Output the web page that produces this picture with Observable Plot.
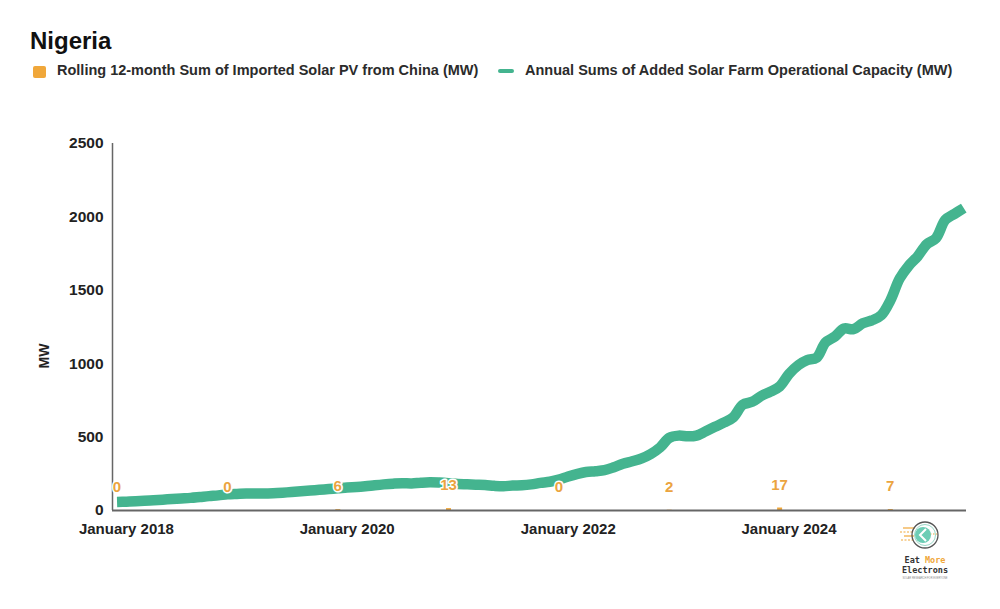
<!DOCTYPE html>
<html>
<head>
<meta charset="utf-8">
<script src="https://cdn.jsdelivr.net/npm/d3@7"></script>
<script src="https://cdn.jsdelivr.net/npm/@observablehq/plot@0.6"></script>
<style>
  body { margin: 0; background: #fff; font-family: "Liberation Sans", Arial, sans-serif; }
  #wrap { position: relative; width: 1000px; height: 609px; overflow: hidden; background: #fff; }
  #title { position: absolute; left: 30px; top: 27px; font-size: 24px; font-weight: bold; color: #111; }
  .leg { position: absolute; top: 62px; font-size: 14.5px; font-weight: bold; color: #2b2b2b; white-space: nowrap; }
  .sw-sq { position: absolute; left: 33px; top: 66px; width: 13px; height: 12px; background: #F0A73A; border-radius: 2px; }
  .sw-ln { position: absolute; left: 498px; top: 69px; width: 16px; height: 4px; background: #44B48F; border-radius: 2px; }
  #chart { position: absolute; left: 0; top: 100px; }
  #chart svg text { font-family: "Liberation Sans", Arial, sans-serif; }
  #chart g[aria-label="x-axis tick label"] text, #chart g[aria-label="y-axis tick label"] text { font-weight: bold; fill: #222; }
  #ylab { position: absolute; left: 32px; top: 348px; font-size: 14px; font-weight: bold; color: #222; transform: rotate(-90deg); transform-origin: center; }
  #logo { position: absolute; left: 895px; top: 517px; }
</style>
</head>
<body>
<div id="wrap">
  <div id="title">Nigeria</div>
  <div class="sw-sq"></div>
  <div class="leg" style="left:57px">Rolling 12-month Sum of Imported Solar PV from China (MW)</div>
  <div class="sw-ln"></div>
  <div class="leg" style="left:525px">Annual Sums of Added Solar Farm Operational Capacity (MW)</div>
  <div id="chart"></div>
  <div id="ylab">MW</div>
  <svg id="logo" width="60" height="66" viewBox="0 0 60 66">
    <g stroke="#F0A73A" stroke-width="1.2">
      <line x1="8" y1="11" x2="20" y2="11"/>
      <line x1="5" y1="15" x2="19" y2="15" stroke-dasharray="2 1.5"/>
      <line x1="9" y1="19" x2="19" y2="19"/>
      <line x1="6" y1="23" x2="20" y2="23" stroke-dasharray="2 1.5"/>
      <line x1="32" y1="17" x2="44" y2="17" stroke-dasharray="1.5 1.5"/>
    </g>
    <circle cx="30" cy="18" r="13" fill="none" stroke="#555" stroke-width="1.3"/>
    <circle cx="30" cy="18" r="10.5" fill="none" stroke="#9ad8c8" stroke-width="1"/>
    <circle cx="28" cy="18" r="8" fill="#6ccdb5"/>
    <path d="M31 12 L25 18 L31 24" fill="none" stroke="#fff" stroke-width="2"/>
    <text x="30" y="46" text-anchor="middle" font-family="DejaVu Sans Mono, monospace" font-weight="bold" font-size="8.5"><tspan fill="#333">Eat </tspan><tspan fill="#F0A73A">More</tspan></text>
    <text x="30" y="56" text-anchor="middle" font-family="DejaVu Sans Mono, monospace" font-weight="bold" font-size="8.5" fill="#333">Electrons</text>
    <text x="30" y="62" text-anchor="middle" font-family="Liberation Sans, sans-serif" font-size="2.6" fill="#888">SOLAR RESEARCH FOR EVERYONE</text>
  </svg>
</div>
<script>
// ---- Data ----
// Monthly capacity series: first month Dec 2017, last Aug 2025
const capacityStartMonth = "2017-12";
const capacityMW = [
  58, 60, 63, 66, 70, 74, 78, 82, 86, 92, 98, 103, 110, 113,
  115, 116, 115, 117, 121, 126, 131, 136, 141, 146, 151, 157,
  160, 165, 172, 178, 183, 186, 184, 189, 192, 190, 186, 180,
  178, 176, 174, 168, 165, 170, 172, 178, 188, 196, 210, 232,
  250, 262, 268, 275, 295, 318, 335, 355, 385, 430, 495, 510,
  505, 510, 540, 570, 600, 635, 720, 740, 780, 810, 845, 930,
  990, 1025, 1040, 1145, 1185, 1240, 1235, 1275, 1295, 1330, 1430, 1580,
  1670, 1730, 1815, 1855, 1980, 2020, 2060
];
// Rolling 12-month imports from China (labelled points)
const importMonths = ["2017-12", "2018-12", "2019-12", "2020-12", "2021-12", "2022-12", "2023-12", "2024-12"];
const importMW = [0, 0, 6, 13, 0, 2, 17, 7];
// Axis ticks
const xTickMonths = ["2018-01", "2020-01", "2022-01", "2024-01"];
const yTicks = [0, 500, 1000, 1500, 2000, 2500];

// ---- Build tables ----
const parseMonth = d3.utcParse("%Y-%m");
const start = parseMonth(capacityStartMonth);
const capacity = capacityMW.map((v, i) => ({ date: d3.utcMonth.offset(start, i), value: v }));
const imports = importMonths.map((m, i) => ({ date: parseMonth(m), value: importMW[i] }));
const xTicks = xTickMonths.map(parseMonth);

const green = "#44B48F";
const orange = "#F0A73A";

const chart = Plot.plot({
  width: 1000,
  height: 509,
  marginLeft: 112,
  marginRight: 34,
  marginTop: 43,
  marginBottom: 99,
  style: { fontFamily: "Liberation Sans, Arial, sans-serif", background: "transparent" },
  x: { type: "utc", domain: [new Date(Date.UTC(2017, 10, 16)), new Date(Date.UTC(2025, 7, 10))] },
  y: { domain: [0, 2500] },
  marks: [
    Plot.axisY({ ticks: yTicks, tickSize: 0, tickPadding: 9, fontSize: 15.5, label: null, tickFormat: d3.format("d") }),
    Plot.axisX({ ticks: xTicks, tickSize: 0, tickPadding: 13, fontSize: 15, label: null, tickFormat: d3.utcFormat("%B %Y") }),
    Plot.ruleX([new Date(Date.UTC(2017, 10, 16))], { y1: 0, y2: 2500, stroke: "#666", strokeWidth: 1.5 }),
    Plot.ruleX(imports, { x: "date", y1: 0, y2: "value", stroke: orange, strokeWidth: 5 }),
    Plot.ruleY([0], { stroke: "#666", strokeWidth: 1.8 }),
    Plot.lineY(capacity, { x: "date", y: "value", stroke: green, strokeWidth: 10.5, curve: "catmull-rom", strokeLinejoin: "round", strokeLinecap: "butt" }),
    Plot.text(imports, { x: "date", y: "value", text: d => String(d.value), dy: -23, fill: "#EBA43F", fontSize: 15, fontWeight: 600, stroke: "white", strokeWidth: 3, paintOrder: "stroke" })
  ]
});
document.getElementById("chart").appendChild(chart);
</script>
</body>
</html>
